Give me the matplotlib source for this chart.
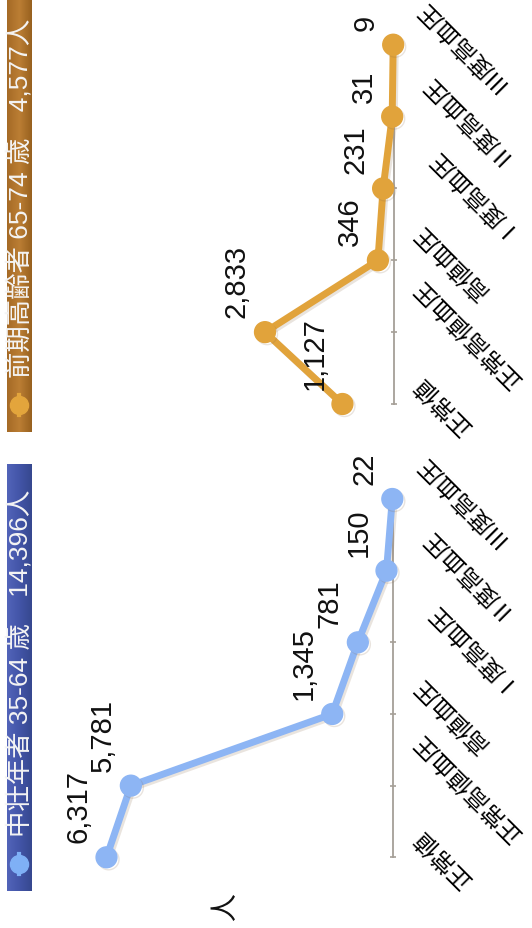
import numpy as np
import matplotlib.pyplot as plt
import matplotlib.patheffects as pe
from matplotlib.colors import LinearSegmentedColormap

# canvas in pixels (dpi 100)
W, H = 532, 929
DPI = 100

# data
categories = ["正常値", "正常高値血圧", "高値血圧", "Ⅰ度高血圧", "Ⅱ度高血圧", "Ⅲ度高血圧"]
middle_counts = [6317, 5781, 1345, 781, 150, 22]
elderly_counts = [1127, 2833, 346, 231, 31, 9]
middle_title = "中壮年者 35-64 歳　14,396人"
elderly_title = "前期高齢者 65-74 歳　4,577人"
unit_label = "人"

JP = ["Noto Sans CJK JP", "DejaVu Sans"]
NUM = ["Liberation Sans", "Noto Sans CJK JP"]

BLUE = "#8db5f4"
ORANGE = "#e1a33b"
AXIS_GREY = "#a59f97"

PX_PER_UNIT = 0.0454   # horizontal pixels per person
XMAX = 7400            # value at the left edge of each panel


def px_box(left, top, width, height):
    # image pixel box (y down) -> figure fraction
    return [left / W, 1 - (top + height) / H, width / W, height / H]


def draw_panel(fig, values, color, axis_x, y_first, y_last):
    step = (y_first - y_last) / (len(categories) - 1)
    left = axis_x - XMAX * PX_PER_UNIT
    top = y_last - 0.6 * step
    height = (y_first - y_last) + 1.2 * step
    ax = fig.add_axes(px_box(left, top, axis_x - left, height))
    ax.set_xlim(XMAX, 0)
    ax.set_ylim(-0.6, len(categories) - 1 + 0.6)
    ax.patch.set_alpha(0)

    pos = np.arange(len(categories))
    shadow = [pe.SimpleLineShadow(offset=(1.5, -1.5), shadow_color="#8a6a4a", alpha=0.18),
              pe.Normal()]
    ax.plot(values, pos, color=color, lw=5, marker="o", ms=15,
            mec=color, mfc=color, clip_on=False, zorder=3, path_effects=shadow)

    for v, y in zip(values, pos):
        ax.annotate(f"{v:,}", (v, y), xytext=(-14, 15), textcoords="offset pixels",
                    rotation=90, ha="right", va="bottom", fontsize=21,
                    family=NUM, color="#111111")

    for s in ["top", "bottom", "left"]:
        ax.spines[s].set_visible(False)
    ax.spines["right"].set_bounds(0, len(categories) - 1)
    ax.spines["right"].set_color(AXIS_GREY)
    ax.spines["right"].set_linewidth(1.3)
    ax.xaxis.set_visible(False)
    ax.yaxis.tick_right()
    ax.set_yticks(pos)
    ax.set_yticklabels(categories, rotation=135, ha="left", va="center",
                       fontsize=17, family=JP)
    ax.tick_params(axis="y", direction="inout", length=5, width=1.2,
                   color=AXIS_GREY, pad=9)
    return ax


def draw_header(ov, top, bottom, colors, dot_color, title, text_start):
    cmap = LinearSegmentedColormap.from_list("bar", colors)
    grad = np.linspace(0, 1, 64).reshape(1, -1)
    ov.imshow(grad, cmap=cmap, aspect="auto", extent=(7, 32, bottom, top), zorder=1)
    ov.plot([19, 19], [bottom - 37, bottom - 17], color=dot_color, lw=3, zorder=2)
    ov.plot([19], [bottom - 27], "o", ms=13, color=dot_color, zorder=3)
    ov.text(19.5, text_start, title, rotation=90, ha="center", va="bottom",
            fontsize=19, family=NUM, color="#f4f4f4", zorder=4)


fig = plt.figure(figsize=(W / DPI, H / DPI), dpi=DPI)
fig.patch.set_facecolor("white")

draw_panel(fig, middle_counts, BLUE, 393.3, 858.3, 500.0)
draw_panel(fig, elderly_counts, ORANGE, 393.6, 405.0, 45.7)

ov = fig.add_axes([0, 0, 1, 1], zorder=5)
ov.set_axis_off()
draw_header(ov, 465, 892, ["#5264b9", "#4355a8", "#36488f"], "#7fb0f6",
            middle_title, 837)
draw_header(ov, 0, 433, ["#a56a26", "#bb7e34", "#98611f"], "#e3a53c",
            elderly_title, 378)
ov.text(225, 907, unit_label, rotation=90, ha="center", va="center",
        fontsize=20, family=JP, color="#111111")
ov.set_xlim(0, W)
ov.set_ylim(H, 0)

fig.savefig("out.png", dpi=DPI)
